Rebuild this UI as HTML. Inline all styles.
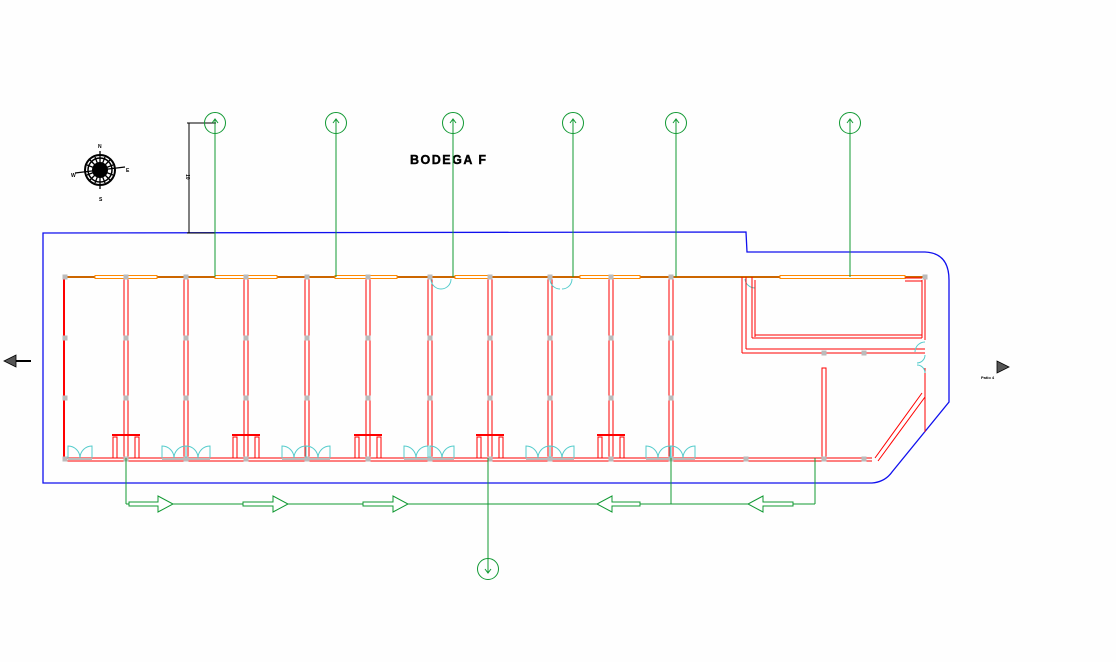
<!DOCTYPE html>
<html><head><meta charset="utf-8"><style>
html,body{margin:0;padding:0;background:#fff;width:1116px;height:662px;overflow:hidden}
svg{display:block}
#g line,#g rect{shape-rendering:crispEdges}
</style></head><body>
<svg id="s" width="1116" height="662" viewBox="0 0 1116 662" xmlns="http://www.w3.org/2000/svg">
<rect width="1116" height="662" fill="#fefefe"/>
<path d="M43,233 L746,232 L747,252 L925,252 Q949,253 949,280 L949,402 L892,472 Q885,482 872,483 L43,483 Z" fill="none" stroke="#1010ee" stroke-width="1.3"/>
<g stroke="#000" stroke-width="1" fill="none" shape-rendering="crispEdges">
<line x1="189" y1="123" x2="189" y2="233"/>
<line x1="187" y1="123" x2="216" y2="123"/>
<line x1="187" y1="233" x2="215" y2="233"/>
</g>
<text x="186" y="174" font-family="Liberation Sans" font-size="5" font-weight="bold" transform="rotate(90 186 174)">10</text>
<g transform="translate(100,170)">
<circle r="15" fill="none" stroke="#000" stroke-width="2"/>
<circle r="12" fill="none" stroke="#000" stroke-width="1.5"/>
<circle r="8" fill="#000"/>
<g stroke="#000" stroke-width="1.3">
<line x1="0" y1="-19" x2="0" y2="19"/><line x1="-25" y1="3" x2="25" y2="-3"/>
<line x1="-11" y1="-11" x2="11" y2="11"/><line x1="-11" y1="11" x2="11" y2="-11"/>
<line x1="-5" y1="-13" x2="5" y2="13"/><line x1="5" y1="-13" x2="-5" y2="13"/>
<line x1="-13" y1="-5" x2="13" y2="5"/><line x1="-13" y1="5" x2="13" y2="-5"/>
</g>
<text x="-2" y="-22" font-size="5" font-family="Liberation Sans" font-weight="bold">N</text>
<text x="26" y="2" font-size="5" font-family="Liberation Sans" font-weight="bold">E</text>
<text x="-29" y="7" font-size="5" font-family="Liberation Sans" font-weight="bold">W</text>
<text x="-1" y="31" font-size="5" font-family="Liberation Sans" font-weight="bold">S</text>
</g>
<text x="410" y="164" font-family="Liberation Sans" font-size="12.5" font-weight="bold" letter-spacing="1.5" stroke="#000" stroke-width="0.4">BODEGA F</text>
<polygon points="4,361 16,355 16,367" fill="#555" stroke="#000" stroke-width="0.8"/>
<line x1="16" y1="361" x2="31" y2="361" stroke="#000" stroke-width="2"/>
<polygon points="1009,367 997,361 997,373" fill="#555" stroke="#000" stroke-width="0.8"/>
<text x="981" y="379" font-size="4" font-family="Liberation Sans" font-weight="bold">Patio 4</text>
<g id="g"></g>
</svg>
<script>
var g=document.getElementById('g'),h='';
function L(x1,y1,x2,y2,c,w){h+='<line x1="'+x1+'" y1="'+y1+'" x2="'+x2+'" y2="'+y2+'" stroke="'+c+'" stroke-width="'+(w||1)+'"/>';}
function R(x,y,w,hh,c,f,sw){h+='<rect x="'+x+'" y="'+y+'" width="'+w+'" height="'+hh+'" fill="'+(f||'none')+'" stroke="'+c+'" stroke-width="'+(sw||1)+'"/>';}
var RED='#ff0000',GR='#119933',OR='#cc6600',CY='#55cccc',GY='#bbbbbb';
L(65,277,925,277,OR,2);
[[95,157],[215,277],[335,397],[455,490],[580,640],[780,905]].forEach(function(a){R(a[0],275.5,a[1]-a[0],3,'#ff8800','#fff',1);});
L(65,458,872,458,RED,1);L(65,461,872,461,RED,1);
L(64,277,64,459,RED,2);
var xs=[126,186,246,307,368,430,490,550,611,671];
xs.forEach(function(x){L(x-2,277,x-2,459,RED,1);L(x+2,277,x+2,459,RED,1);
 [277,338,398,459].forEach(function(y){R(x-2,y-2,4,4,GY,GY,0);});});
[277,338,398,459].forEach(function(y){R(63,y-2,4,4,GY,GY,0);});
[126,246,368,490,611].forEach(function(x){L(x-14,435,x+14,435,RED,2);
 [x-11,x+11].forEach(function(xx){R(xx-2,437,4,21,RED,'#fff',1);});});
function door(x,y,w){var r=w/2;h+='<path d="M'+x+','+y+' L'+x+','+(y-r)+' A'+r+','+r+' 0 0 1 '+(x+r)+','+y+' M'+(x+w)+','+y+' L'+(x+w)+','+(y-r)+' A'+r+','+r+' 0 0 0 '+(x+r)+','+y+'" fill="none" stroke="'+CY+'" stroke-width="1"/>';L(x,y+1,x+w,y+1,GY,2);}
[68,162,186,282,306,404,430,526,550,646,671].forEach(function(x){door(x,458,24);});
h+='<path d="M431,279 A10,10 0 0 0 441,289 M451,279 A10,10 0 0 1 441,289 M550,279 A10,10 0 0 0 560,289 M572,279 A10,10 0 0 1 562,289 M745,279 A10,10 0 0 0 755,288" fill="none" stroke="'+CY+'" stroke-width="1"/>';
L(742,277,742,353,RED,1);L(746,277,746,349,RED,1);
L(742,353,925,353,RED,1);L(746,349,925,349,RED,1);
L(755,280,755,337,RED,1);L(752,277,752,338,RED,1);L(752,338,922,338,RED,1);L(755,335,922,335,RED,1);
L(922,280,922,338,RED,1);L(925,277,925,340,RED,1);L(905,278,922,278,RED,1);L(905,281,922,281,RED,1);
L(925,368,925,432,RED,1);
h+='<path d="M925,342 A10,10 0 0 0 915,352 M925,355 A8,8 0 0 1 917,363 M925,373 A8,8 0 0 0 917,365" fill="none" stroke="'+CY+'" stroke-width="1"/>';
h+='<path d="M922,393 L875,458 M925,397 L878,461" stroke="'+RED+'" stroke-width="1"/>';
R(822,368,4,90,RED,'#fff',1);
[[824,353],[864,353],[824,459],[864,459],[746,459]].forEach(function(p){R(p[0]-2,p[1]-2,4,4,GY,GY,0);});
[[925,277],[671,277]].forEach(function(p){R(p[0]-2,p[1]-2,4,4,GY,GY,0);});
[[215,123],[336,123],[453,123],[573,123],[676,123],[850,123]].forEach(function(p){
 h+='<circle cx="'+p[0]+'" cy="'+p[1]+'" r="10.5" fill="none" stroke="'+GR+'" stroke-width="1"/>';
 h+='<path d="M'+(p[0]-3)+','+p[1]+' L'+p[0]+','+(p[1]-4)+' L'+(p[0]+3)+','+p[1]+'" fill="none" stroke="'+GR+'"/>';
 L(p[0],p[1]-4,p[0],277,GR,1);});
h+='<circle cx="488" cy="569" r="10.5" fill="none" stroke="'+GR+'"/>';
h+='<path d="M485,569 L488,573 L491,569" fill="none" stroke="'+GR+'"/>';
L(488,458,488,573,GR,1);
L(126,504,815,504,GR,1);L(126,458,126,504,GR,1);L(671,458,671,504,GR,1);L(815,458,815,504,GR,1);
function arr(x1,x2,dir){var y=504;var s;
 if(dir>0)s='M'+x1+','+(y-2)+' L'+(x2-15)+','+(y-2)+' L'+(x2-15)+','+(y-8)+' L'+x2+','+y+' L'+(x2-15)+','+(y+8)+' L'+(x2-15)+','+(y+2)+' L'+x1+','+(y+2)+' Z';
 else s='M'+x2+','+(y-2)+' L'+(x1+15)+','+(y-2)+' L'+(x1+15)+','+(y-8)+' L'+x1+','+y+' L'+(x1+15)+','+(y+8)+' L'+(x1+15)+','+(y+2)+' L'+x2+','+(y+2)+' Z';
 h+='<path d="'+s+'" fill="#fff" stroke="'+GR+'" stroke-width="1"/>';}
arr(129,173,1);arr(243,288,1);arr(363,408,1);arr(597,640,-1);arr(748,793,-1);
g.innerHTML=h;
</script>
</body></html>
